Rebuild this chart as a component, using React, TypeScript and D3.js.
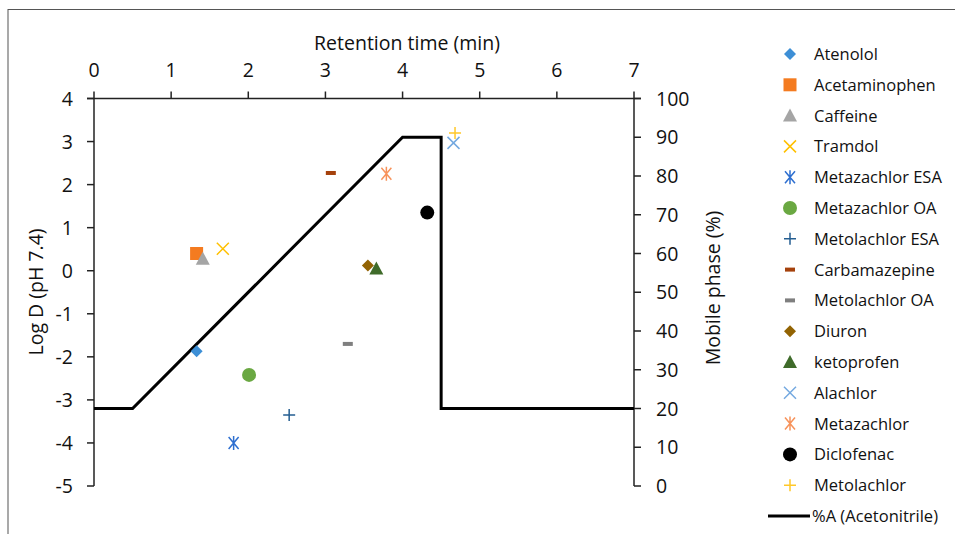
import React from 'react'
import * as d3 from 'd3'

const compounds = ['Atenolol', 'Acetaminophen', 'Caffeine', 'Tramdol', 'Metazachlor ESA', 'Metazachlor OA', 'Metolachlor ESA', 'Carbamazepine', 'Metolachlor OA', 'Diuron', 'ketoprofen', 'Alachlor', 'Metazachlor', 'Diclofenac', 'Metolachlor']
const retention = [1.33, 1.33, 1.41, 1.67, 1.81, 2.01, 2.53, 3.07, 3.29, 3.55, 3.66, 4.66, 3.79, 4.32, 4.68]
const logD = [-1.87, 0.4, 0.28, 0.51, -4.0, -2.42, -3.35, 2.27, -1.7, 0.12, 0.05, 2.97, 2.25, 1.35, 3.2]
const markers = ['diamond', 'square', 'triangle', 'x', 'asterisk', 'circle', 'plus', 'dash', 'dash', 'diamond', 'triangle', 'x', 'asterisk', 'circle', 'plus']
const colors = ['#3d8fd6', '#f47b20', '#a5a5a5', '#ffc000', '#2e6fd0', '#6aa842', '#255e91', '#a5410c', '#7f7f7f', '#926303', '#3f6b2a', '#74a9e0', '#f7925a', '#000000', '#ffc829']

const gradientTime = [0, 0.5, 4.0, 4.5, 4.5, 7]
const gradientPct = [20, 20, 90, 90, 20, 20]

const timeTicks = [0, 1, 2, 3, 4, 5, 6, 7]
const logTicks = [4, 3, 2, 1, 0, -1, -2, -3, -4, -5]
const pctTicks = [100, 90, 80, 70, 60, 50, 40, 30, 20, 10, 0]

const FONT = '"Open Sans", "Noto Sans", sans-serif'

function Marker({ type, color, x, y }: { type: string; color: string; x: number; y: number }) {
  const t = `translate(${x},${y})`
  if (type === 'diamond') return <path transform={t} d="M0,-6L6,0L0,6L-6,0Z" fill={color} />
  if (type === 'square') return <rect transform={t} x={-6.5} y={-6.5} width={13} height={13} fill={color} />
  if (type === 'triangle') return <path transform={t} d="M0,-7L7,6L-7,6Z" fill={color} />
  if (type === 'circle') return <circle transform={t} r={7} fill={color} />
  if (type === 'x') return <path transform={t} d="M-6,-6L6,6M-6,6L6,-6" stroke={color} strokeWidth={1.5} fill="none" />
  if (type === 'plus') return <path transform={t} d="M-6,0L6,0M0,-6L0,6" stroke={color} strokeWidth={1.5} fill="none" />
  if (type === 'asterisk') return <path transform={t} d="M-5,-6L5,6M-5,6L5,-6M0,-7L0,7" stroke={color} strokeWidth={1.5} fill="none" />
  if (type === 'dash') return <rect transform={t} x={-5} y={-2} width={10} height={4} fill={color} />
  return null
}

export default function App() {
  const width = 955
  const height = 534
  const left = 94
  const right = 634
  const top = 98.5
  const bottom = 486

  const x = d3.scaleLinear().domain([0, 7]).range([left, right])
  const y = d3.scaleLinear().domain([-5, 4]).range([bottom, top])
  const yPct = d3.scaleLinear().domain([0, 100]).range([bottom, top])

  const line = d3
    .line<number>()
    .x((d, i) => x(gradientTime[i]))
    .y((d) => yPct(d))

  const legendX = 790
  const legendY0 = 54
  const legendStep = 30.8
  const axisFont = 19.5
  const legendFont = 16.5

  return (
    <svg width={width} height={height} style={{ position: 'absolute', left: 0, top: 0 }} fontFamily={FONT}>
      <rect x={0} y={0} width={width} height={height} fill="#fff" />
      <rect x={8} y={9.5} width={1000} height={600} fill="none" stroke="#555" strokeWidth={1} />

      {/* top axis */}
      <line x1={left - 7} x2={right + 7} y1={top} y2={top} stroke="#222" strokeWidth={1.5} />
      {timeTicks.map((t) => (
        <g key={'t' + t}>
          <line x1={x(t)} x2={x(t)} y1={top - 7} y2={top} stroke="#222" strokeWidth={1.5} />
          <text x={x(t)} y={top - 22} textAnchor="middle" fontSize={axisFont} fill="#111">{t}</text>
        </g>
      ))}
      <text x={407} y={50} textAnchor="middle" fontSize={axisFont} fill="#111">Retention time (min)</text>

      {/* left axis */}
      <line x1={left} x2={left} y1={top} y2={bottom} stroke="#222" strokeWidth={1.5} />
      {logTicks.map((t) => (
        <g key={'l' + t}>
          <line x1={left - 7} x2={left} y1={y(t)} y2={y(t)} stroke="#222" strokeWidth={1.5} />
          <text x={73} y={y(t) + 7} textAnchor="end" fontSize={axisFont} fill="#111">{t}</text>
        </g>
      ))}
      <text transform={`translate(43,292) rotate(-90)`} textAnchor="middle" fontSize={axisFont} fill="#111">Log D (pH 7.4)</text>

      {/* right axis */}
      <line x1={right} x2={right} y1={top} y2={bottom} stroke="#222" strokeWidth={1.5} />
      {pctTicks.map((t) => (
        <g key={'r' + t}>
          <line x1={right} x2={right + 7} y1={yPct(t)} y2={yPct(t)} stroke="#222" strokeWidth={1.5} />
          <text x={656} y={yPct(t) + 7} textAnchor="start" fontSize={axisFont} fill="#111">{t}</text>
        </g>
      ))}
      <text transform={`translate(720,288) rotate(-90)`} textAnchor="middle" fontSize={axisFont} fill="#111">Mobile phase (%)</text>

      {/* gradient */}
      <path d={line(gradientPct) || ''} fill="none" stroke="#000" strokeWidth={3} strokeLinejoin="miter" />

      {/* points */}
      {compounds.map((c, i) => (
        <Marker key={c} type={markers[i]} color={colors[i]} x={x(retention[i])} y={y(logD[i])} />
      ))}

      {/* legend */}
      {compounds.map((c, i) => (
        <g key={'lg' + c}>
          <Marker type={markers[i]} color={colors[i]} x={legendX} y={legendY0 + i * legendStep} />
          <text x={814} y={legendY0 + i * legendStep + 6} fontSize={legendFont} fill="#111">{c}</text>
        </g>
      ))}
      <line x1={768} x2={810} y1={legendY0 + 15 * legendStep} y2={legendY0 + 15 * legendStep} stroke="#000" strokeWidth={3} />
      <text x={812} y={legendY0 + 15 * legendStep + 6} fontSize={legendFont} fill="#111">%A (Acetonitrile)</text>
    </svg>
  )
}
